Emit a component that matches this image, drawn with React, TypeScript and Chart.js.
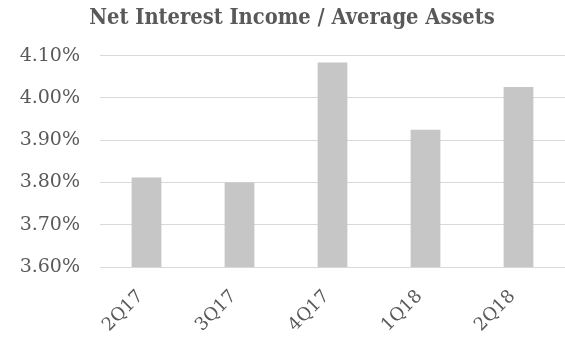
import React, { useEffect, useRef } from "react";
import { Chart, registerables } from "chart.js";

Chart.register(...registerables);

const TITLE = "Net Interest Income / Average Assets";
const CATEGORIES = ["2Q17", "3Q17", "4Q17", "1Q18", "2Q18"];
const VALUES = [3.812, 3.8, 4.084, 3.925, 4.026];
const Y_MIN = 3.6;
const Y_MAX = 4.1;
const Y_STEP = 0.1;

const FONT = "'DejaVu Serif', serif";
const TITLE_FONT = "'DejaVu Serif Condensed', 'DejaVu Serif', serif";
const TEXT = "#595959";

export default function App() {
  const ref = useRef<HTMLCanvasElement | null>(null);

  useEffect(() => {
    document.body.style.margin = "0";
    if (!ref.current) return;
    const chart = new Chart(ref.current, {
      type: "bar",
      data: {
        labels: CATEGORIES,
        datasets: [
          {
            data: VALUES,
            backgroundColor: "#c6c6c6",
            borderWidth: 0,
            categoryPercentage: 1,
            barPercentage: 0.32,
          },
        ],
      },
      options: {
        animation: false,
        responsive: false,
        maintainAspectRatio: false,
        layout: { padding: { left: 19, right: 0, top: 0, bottom: 0 } },
        plugins: {
          legend: { display: false },
          tooltip: { enabled: false },
          title: {
            display: true,
            text: TITLE,
            color: TEXT,
            font: { family: TITLE_FONT, size: 21.7, weight: "bold", lineHeight: 1.2 },
            padding: { top: 5, bottom: 24.7 },
          },
        },
        scales: {
          x: {
            grid: { display: false, drawTicks: false },
            border: { display: false },
            ticks: {
              color: TEXT,
              font: { family: FONT, size: 18 },
              minRotation: 45,
              maxRotation: 45,
              autoSkip: false,
              padding: 19,
              labelOffset: -6,
            },
            afterFit: (s: any) => {
              s.height = 79;
            },
          },
          y: {
            min: Y_MIN,
            max: Y_MAX,
            grid: { color: "#d9d9d9", lineWidth: 1, drawTicks: false },
            border: { display: false },
            ticks: {
              stepSize: Y_STEP,
              color: TEXT,
              font: { family: FONT, size: 19 },
              padding: 20,
              callback: (v: any) => Number(v).toFixed(2) + "%",
            },
            afterFit: (s: any) => {
              s.width = 81;
            },
          },
        },
      },
    });
    return () => chart.destroy();
  }, []);

  return (
    <div style={{ position: "absolute", left: 0, top: 0, width: 565, height: 346 }}>
      <canvas ref={ref} width={565} height={346} style={{ width: 565, height: 346 }} />
    </div>
  );
}
